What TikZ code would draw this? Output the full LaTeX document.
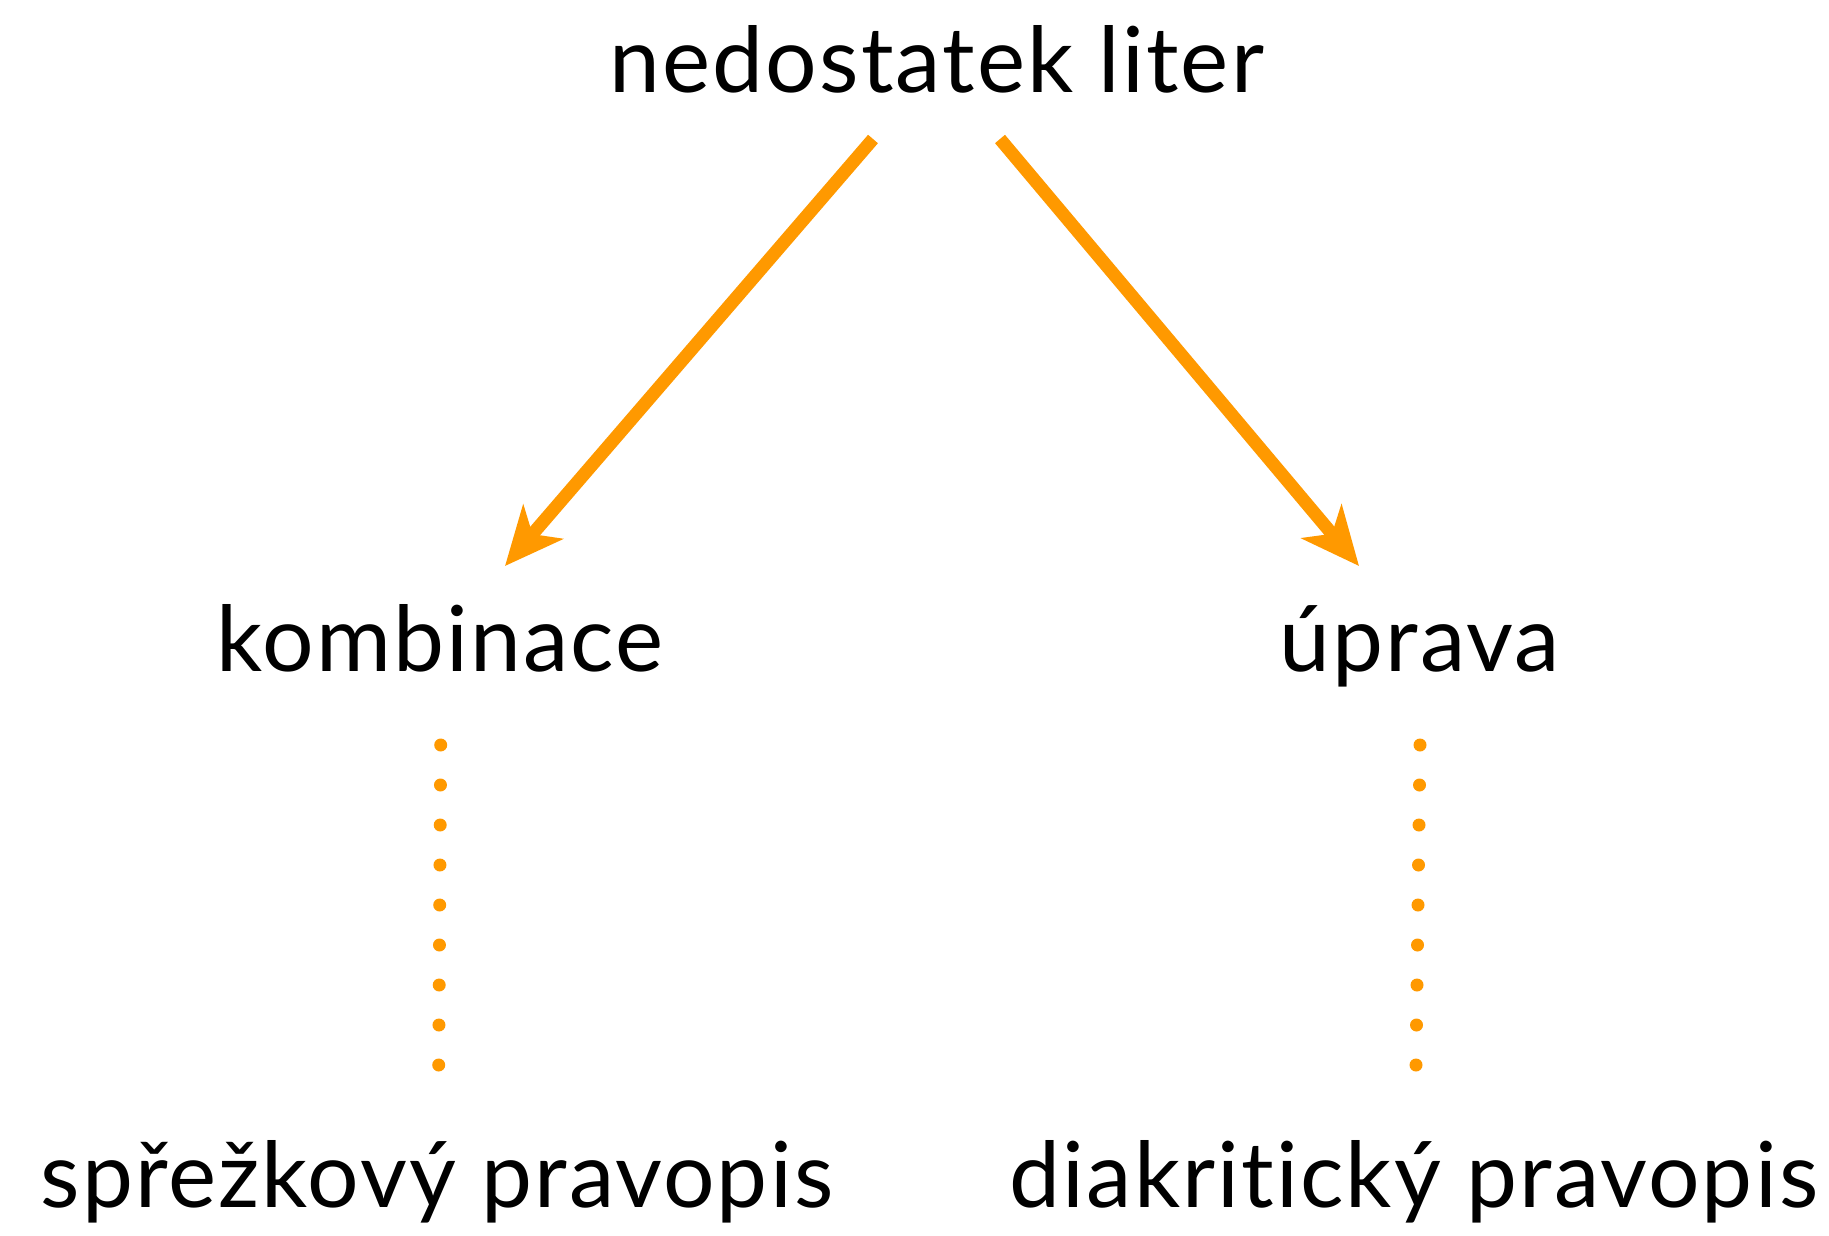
\documentclass[tikz,border=0pt]{standalone}
\usepackage{fontspec}
\setmainfont{Lato}[Ligatures=NoCommon, LetterSpace=2.3]
\usetikzlibrary{arrows.meta}
\definecolor{accent}{RGB}{255,153,0}
\begin{document}
\begin{tikzpicture}[x=1pt,y=-1pt,
  term/.style={font=\fontsize{91}{110}\selectfont, anchor=base, inner sep=0pt},
  link/.style={accent, line width=13pt,
    -{Stealth[length=58pt,width=52pt,inset=16pt]}},
  dot/.style={accent, fill=accent, circle, inner sep=0pt, minimum size=13pt}]
\useasboundingbox (0,0) rectangle (1829,1236);

% terms
\node[term] (top)   at (937,93)   {nedostatek liter};
\node[term] (komb)  at (440,671)  {kombinace};
\node[term] (uprav) at (1420,671) {úprava};
\node[term] (sprez) at (437,1207) {spřežkový pravopis};
\node[term] (diakr) at (1414,1207){diakritický pravopis};

% arrow ends
\coordinate (lstart) at (873,139);
\coordinate (lend)   at (505,566);
\coordinate (rstart) at (1000,139);
\coordinate (rend)   at (1359,566);
\draw[link] (lstart) -- (lend);
\draw[link] (rstart) -- (rend);

% dotted links
\foreach \i in {0,...,8} {
  \node[dot] (ld\i) at ({440.7-0.25*\i},{745+40*\i}) {};
  \node[dot] (rd\i) at ({1420-0.5*\i},{745+40*\i}) {};
}
\end{tikzpicture}
\end{document}
